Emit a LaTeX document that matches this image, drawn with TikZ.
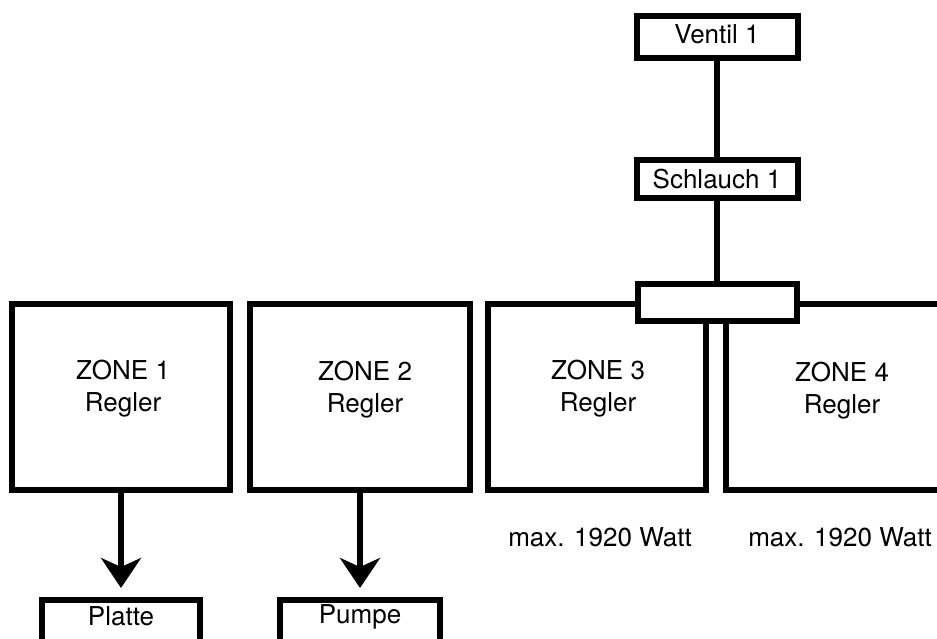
\documentclass[tikz,border=0pt]{standalone}
\usepackage{fontspec}
\setmainfont{TeX Gyre Heros}
\usetikzlibrary{arrows.meta}
\tikzset{
  blk/.style={draw=black, line width=6pt, fill=white, inner sep=0pt},
  zone/.style={blk, minimum width=218pt, minimum height=186pt},
  lbl/.style={font=\fontsize{26}{32}\selectfont, align=center, inner sep=0pt},
  conn/.style={line width=6pt},
  arr/.style={conn, -{Stealth[length=30pt,width=40pt,inset=9pt]}, shorten >=9pt},
}
\begin{document}
\begin{tikzpicture}[x=1pt,y=-1pt]
\useasboundingbox (0,0) rectangle (937,639);
% zones
\node[zone] (z1) at (121,397) {};
\node[zone, minimum width=220pt] (z2) at (360,397) {};
\node[zone] (z3) at (597,397) {};
\node[zone, minimum width=214pt] (z4) at (833,397) {};
% hub
\node[blk, minimum width=159pt, minimum height=37pt] (hub) at (717,302.5) {};
% top boxes
\node[blk, lbl, minimum width=161pt, minimum height=42pt, text depth=6pt] (ventil) at (717,37) {Ventil 1};
\node[blk, lbl, minimum width=161pt, minimum height=38pt] (schlauch) at (717,179) {Schlauch 1};
% bottom boxes
\node[blk, lbl, anchor=north, minimum width=158pt, text height=25pt, text depth=22pt] (platte) at (121,597) {Platte};
\node[blk, lbl, anchor=north, minimum width=160pt, text height=23pt, text depth=24pt] (pumpe) at (360,597) {Pumpe};
% zone texts
\node[lbl] (t1) at ([xshift=2pt,yshift=8pt]z1.center) {ZONE 1\\Regler};
\node[lbl] (t2) at ([xshift=5pt,yshift=7pt]z2.center) {ZONE 2\\Regler};
\node[lbl] (t3) at ([xshift=1pt,yshift=8pt]z3.center) {ZONE 3\\Regler};
\node[lbl] (t4) at ([xshift=9pt,yshift=6pt]z4.center) {ZONE 4\\Regler};
% power labels
\node[lbl] (w3) at (600,537) {max. 1920 Watt};
\node[lbl] (w4) at (840,537) {max. 1920 Watt};
% connectors
\draw[conn] (ventil.south) -- (schlauch.north);
\draw[conn] (schlauch.south) -- (hub.north);
\draw[arr] (z1.south) -- (platte.north);
\draw[arr] (z2.south) -- (pumpe.north);
\end{tikzpicture}
\end{document}
